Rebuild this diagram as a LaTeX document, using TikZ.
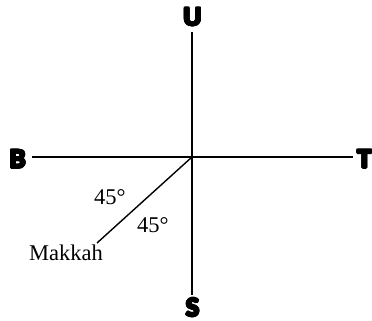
\documentclass[tikz,border=0pt]{standalone}
\usepackage{fontspec}
\usepackage[copies]{contour}
\setmainfont{Liberation Serif}
\newfontfamily\heavyfont{Lato Black}
\contourlength{0.8pt}
\contournumber{12}
\begin{document}
\begin{tikzpicture}[x=1pt,y=1pt,
  axis/.style={line width=1.4pt},
  dirlabel/.style={inner sep=0pt, font=\fontsize{25}{25}\heavyfont},
  txt/.style={inner sep=0pt, anchor=base west, font=\fontsize{22.5}{24}\selectfont}]
\useasboundingbox (0,0) rectangle (372,321);
\coordinate (C) at (192,164);
\coordinate (Ne) at (192,289);
\coordinate (Se) at (192,26);
\coordinate (We) at (32,164);
\coordinate (Ee) at (353,164);
\coordinate (M) at (97,78);
\draw[axis] (Ne) -- (Se);
\draw[axis] (We) -- (Ee);
\draw[axis] (C) -- (M);
\node[dirlabel] (U) at (192.5,303.5) {\contour{black}{U}};
\node[dirlabel] (B) at (17.5,161.5) {\contour{black}{B}};
\node[dirlabel] (T) at (364.5,161.5) {\contour{black}{T}};
\node[dirlabel] (S) at (192.5,13) {\contour{black}{S}};
\node[txt] (mk) at (29,60) {Makkah};
\node[txt] (a1) at (94,116) {45°};
\node[txt] (a2) at (137,88) {45°};
\end{tikzpicture}
\end{document}
